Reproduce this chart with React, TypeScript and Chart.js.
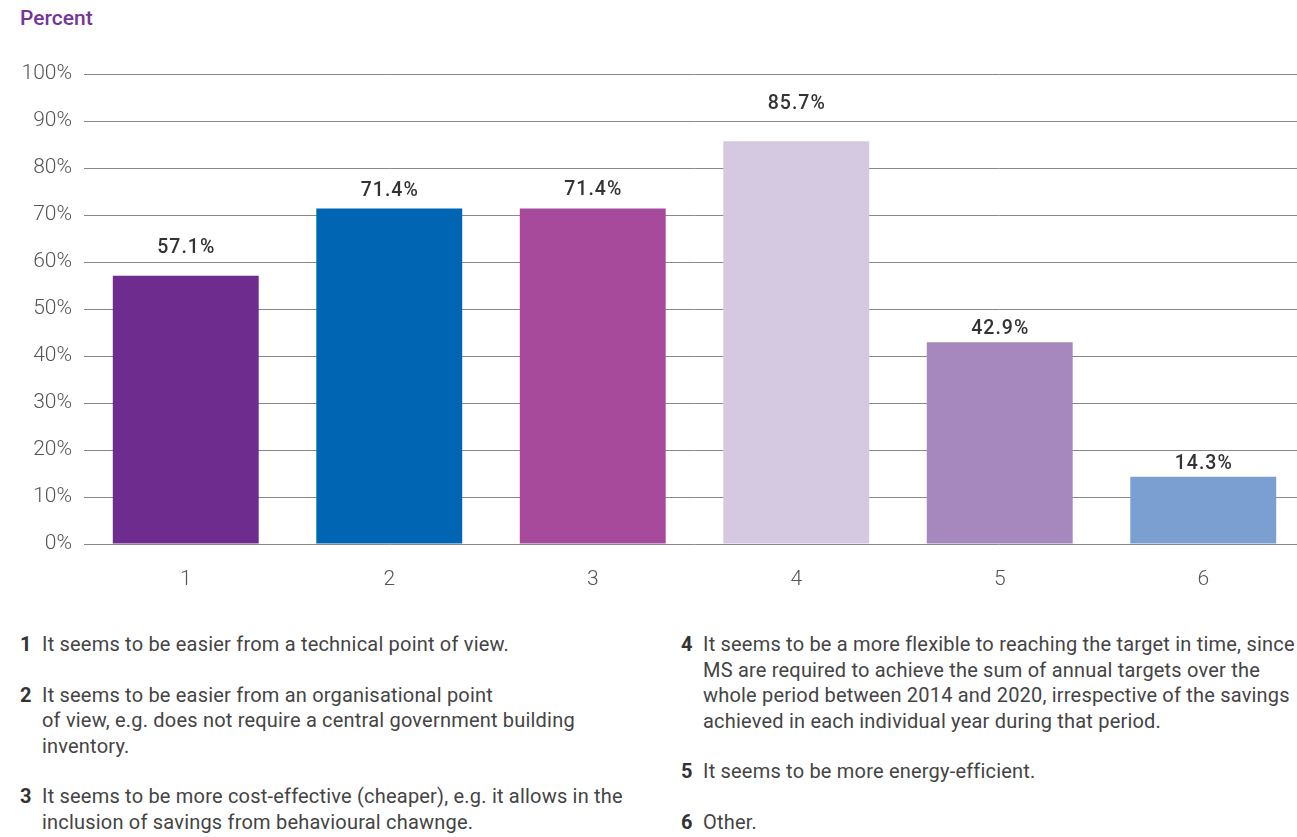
import React, { useEffect, useRef } from "react";
import { Chart, registerables } from "chart.js";

Chart.register(...registerables);

const categories = ["1", "2", "3", "4", "5", "6"];
const values = [57.1, 71.4, 71.4, 85.7, 42.9, 14.3];
const valueLabels = ["57.1%", "71.4%", "71.4%", "85.7%", "42.9%", "14.3%"];
const barColors = ["#6F2C8F", "#0066B3", "#A84A9C", "#D5C8E1", "#A688BF", "#7C9FD2"];
const yTickValues = [0, 10, 20, 30, 40, 50, 60, 70, 80, 90, 100];

const notesLeft = [
  { n: "1", lines: ["It seems to be easier from a technical point of view."] },
  {
    n: "2",
    lines: [
      "It seems to be easier from an organisational point",
      "of view, e.g. does not require a central government building",
      "inventory.",
    ],
  },
  {
    n: "3",
    lines: [
      "It seems to be more cost-effective (cheaper), e.g. it allows in the",
      "inclusion of savings from behavioural chawnge.",
    ],
  },
];
const notesRight = [
  {
    n: "4",
    lines: [
      "It seems to be a more flexible to reaching the target in time, since",
      "MS are required to achieve the sum of annual targets over the",
      "whole period between 2014 and 2020, irrespective of the savings",
      "achieved in each individual year during that period.",
    ],
  },
  { n: "5", lines: ["It seems to be more energy-efficient."] },
  { n: "6", lines: ["Other."] },
];

const labelGaps = [23, 12, 13, 32, 8, 8];

const valueLabelPlugin = {
  id: "valueLabels",
  afterDatasetsDraw(chart: any) {
    const ctx = chart.ctx;
    const meta = chart.getDatasetMeta(0);
    ctx.save();
    ctx.font = "500 19.5px Roboto";
    (ctx as any).letterSpacing = "1px";
    ctx.fillStyle = "#333333";
    ctx.textAlign = "center";
    ctx.textBaseline = "alphabetic";
    meta.data.forEach((bar: any, i: number) => {
      ctx.fillText(valueLabels[i], bar.x + 0.5, bar.y - labelGaps[i]);
    });
    ctx.restore();
  },
};

function Note({ n, lines }: { n: string; lines: string[] }) {
  return (
    <div style={{ display: "flex", marginBottom: 25 }}>
      <div style={{ width: 22, fontWeight: 700, color: "#333" }}>{n}</div>
      <div>
        {lines.map((l, i) => (
          <div key={i} style={{ whiteSpace: "nowrap" }}>
            {l}
          </div>
        ))}
      </div>
    </div>
  );
}

const noteColStyle: React.CSSProperties = {
  position: "absolute",
  top: 632,
  width: 640,
  fontSize: 20,
  letterSpacing: "0.2px",
  lineHeight: "25.5px",
  color: "#444",
};

export default function App() {
  const canvasRef = useRef<HTMLCanvasElement | null>(null);

  useEffect(() => {
    document.body.style.margin = "0";
    const canvas = canvasRef.current;
    if (!canvas) return;
    const tickFont = { family: "Roboto", size: 21, weight: 300 };
    const chart = new Chart(canvas, {
      type: "bar",
      data: {
        labels: categories,
        datasets: [
          {
            data: values,
            backgroundColor: barColors,
            borderWidth: 0,
            barPercentage: 0.717,
            categoryPercentage: 1,
          },
        ],
      },
      options: {
        responsive: false,
        animation: false,
        layout: { padding: { top: 74, left: 0, right: 0, bottom: 0 } },
        plugins: {
          legend: { display: false },
          tooltip: { enabled: false },
        },
        scales: {
          x: {
            grid: { display: false },
            border: { display: false },
            ticks: {
              padding: 15,
              color: "#555555",
              font: tickFont,
            },
            afterFit(scale: any) {
              scale.height = 56;
            },
          },
          y: {
            min: 0,
            max: 100,
            afterBuildTicks(scale: any) {
              scale.ticks = yTickValues.map((v) => ({ value: v }));
            },
            grid: { color: "#888888", lineWidth: 1, drawTicks: false },
            border: { display: false },
            ticks: {
              padding: 12,
              color: "#555555",
              font: tickFont,
              callback: (v: any) => v + "%",
            },
            afterFit(scale: any) {
              scale.width = 84;
            },
          },
        },
      },
      plugins: [valueLabelPlugin],
    });
    return () => chart.destroy();
  }, []);

  return (
    <div
      style={{
        position: "relative",
        width: 1297,
        height: 837,
        overflow: "hidden",
        background: "#fff",
        fontFamily: "Roboto, sans-serif",
      }}
    >
      <div
        style={{
          position: "absolute",
          left: 20,
          top: 5,
          fontSize: 21,
          fontWeight: 500,
          color: "#74349B",
          lineHeight: "26px",
        }}
      >
        Percent
      </div>
      <canvas
        ref={canvasRef}
        width={1305}
        height={600}
        style={{ position: "absolute", left: 0, top: 0, width: 1305, height: 600 }}
      />
      <div style={{ ...noteColStyle, left: 20 }}>
        {notesLeft.map((it) => (
          <Note key={it.n} n={it.n} lines={it.lines} />
        ))}
      </div>
      <div style={{ ...noteColStyle, left: 681 }}>
        {notesRight.map((it) => (
          <Note key={it.n} n={it.n} lines={it.lines} />
        ))}
      </div>
    </div>
  );
}
